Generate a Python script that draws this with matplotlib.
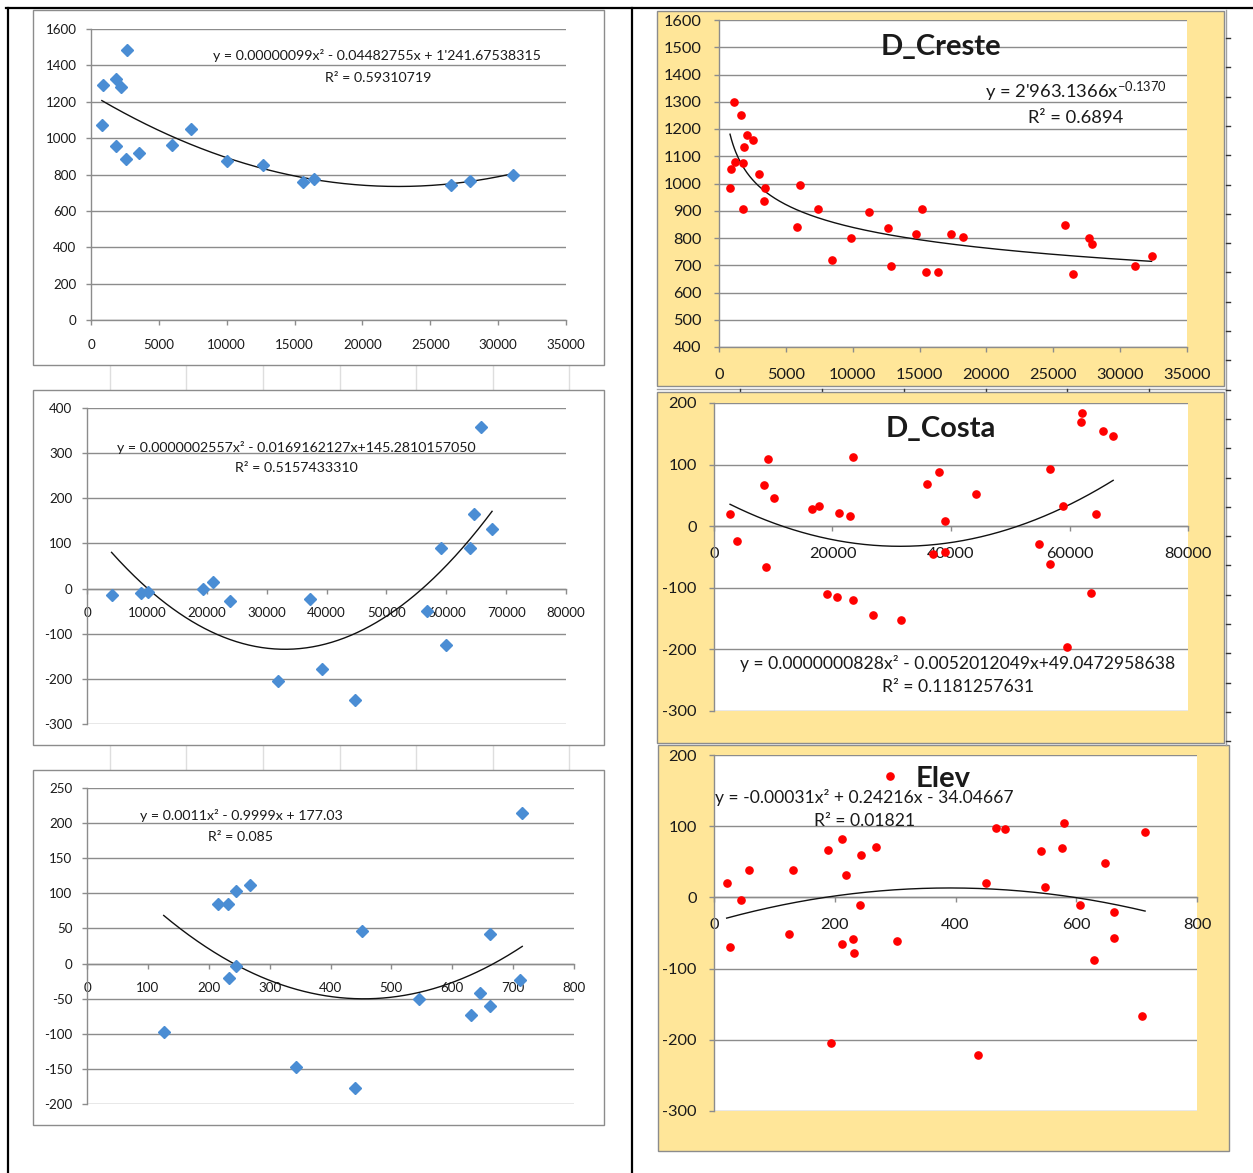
import numpy as np
import matplotlib
matplotlib.use("Agg")
import matplotlib.pyplot as plt
from matplotlib.patches import Rectangle
from matplotlib.lines import Line2D

plt.rcParams['font.family'] = ['Lato', 'DejaVu Sans']
plt.rcParams['mathtext.fontset'] = 'custom'
plt.rcParams['mathtext.rm'] = 'Lato'
plt.rcParams['mathtext.it'] = 'Lato:italic'
plt.rcParams['mathtext.bf'] = 'Lato:bold'

# ---------------- data ----------------
# Panel 1 (left top)
p1_x = [900, 800, 1850, 1850, 2200, 2650, 2550, 3500, 5950, 7400, 10000, 12700,
        15600, 16450, 26500, 27950, 31100]
p1_y = [1290, 1073, 1325, 955, 1280, 1483, 887, 918, 960, 1051, 872, 852,
        760, 775, 745, 765, 800]
p1_coef = [0.00000099, -0.04482755, 1241.67538315]
p1_eq = "y = 0.00000099x² - 0.04482755x + 1'241.67538315"
p1_r2 = "R² = 0.59310719"

# Panel 2 (left middle)
p2_x = [4100, 9100, 10200, 19400, 21100, 23800, 31900, 37250, 39200, 44800,
        56800, 59050, 59900, 63950, 64700, 65800, 67650]
p2_y = [-15, -10, -8, -2, 15, -27, -204, -24, -178, -247,
        -49, 89, -126, 89, 165, 357, 131]
p2_coef = [0.0000002557, -0.0169162127, 145.2810157050]
p2_eq = "y = 0.0000002557x² - 0.0169162127x+145.2810157050"
p2_r2 = "R² = 0.5157433310"

# Panel 3 (left bottom)
p3_x = [126, 215, 232, 234, 244, 245, 268, 343, 440, 451, 546, 630, 645, 662,
        662, 711, 715]
p3_y = [-97, 85, 85, -21, 104, -4, 112, -148, -177, 46, -51, -73, -42, 42,
        -61, -23, 215]
p3_coef = [0.0011, -0.9999, 177.03]
p3_eq = "y = 0.0011x² - 0.9999x + 177.03"
p3_r2 = "R² = 0.085"

# Panel 4 D_Creste
p4_x = [825, 880, 1140, 1220, 1680, 1790, 1790, 1900, 2100, 2530, 2990, 3330,
        3410, 5860, 6060, 7390, 8470, 9890, 11200, 12650, 12850, 14730, 15150,
        15490, 16380, 17370, 18220, 25900, 26470, 27690, 27890, 31080, 32350]
p4_y = [982, 1053, 1300, 1080, 1252, 1075, 906, 1133, 1178, 1160, 1036, 934,
        982, 842, 993, 907, 718, 799, 896, 836, 696, 815, 907,
        674, 674, 815, 804, 847, 669, 799, 777, 696, 734]
p4_a, p4_b = 2963.1366, -0.1370
p4_title = "D_Creste"
p4_eq = r"y = 2'963.1366x$^{\mathrm{-0.1370}}$"
p4_r2 = "R² = 0.6894"

# Panel 5 D_Costa
p5_x = [2710, 3930, 8380, 8830, 9090, 10120, 16570, 17660, 21140, 22890, 23530,
        19080, 20820, 23530, 26820, 31520, 35970, 36940, 37970, 39070, 39070,
        44220, 54920, 56660, 56660, 58860, 59570, 61890, 62140, 63630, 64400,
        65630, 67370]
p5_y = [19, -24, 67, -67, 109, 45, 28, 33, 21, 16, 112,
        -110, -115, -120, -144, -153, 69, -45, 88, 9, -42,
        52, -29, 93, -62, 33, -196, 169, 184, -108, 19,
        155, 146]
p5_coef = [0.0000000828, -0.0052012049, 49.0472958638]
p5_title = "D_Costa"
p5_eq = "y = 0.0000000828x² - 0.0052012049x+49.0472958638"
p5_r2 = "R² = 0.1181257631"

# Panel 6 Elev
p6_x = [21, 26, 44, 58, 124, 131, 188, 193, 212, 212, 218, 230, 232, 242, 244,
        268, 291, 303, 438, 450, 467, 482, 542, 548, 577, 580, 607, 629, 647,
        663, 663, 709, 714]
p6_y = [20, -69, -3, 38, -51, 38, 67, -204, 82, -65, 32, -59, -78, -11, 59,
        71, 170, -61, -221, 20, 98, 96, 65, 14, 69, 105, -11, -88, 48,
        -20, -57, -167, 92]
p6_coef = [-0.00031, 0.24216, -34.04667]
p6_title = "Elev"
p6_eq = "y = -0.00031x² + 0.24216x - 34.04667"
p6_r2 = "R² = 0.01821"

# ---------------- figure ----------------
W, H = 1253, 1173
fig = plt.figure(figsize=(W / 100, H / 100), dpi=100)
fig.patch.set_facecolor('white')

BLUE = '#4A8DD4'
RED = '#FF0000'
GRID = '#8C8C8C'
YELLOW = '#FFE699'
TXT = '#1a1a1a'


def fx(x):
    return x / W


def fy(y):
    return 1 - y / H


def px_axes(x0, y0, x1, y1):
    return fig.add_axes([fx(x0), fy(y1), (x1 - x0) / W, (y1 - y0) / H])


def rect(x0, y0, x1, y1, face, edge, lw=1.0, z=-5):
    r = Rectangle((fx(x0), fy(y1)), (x1 - x0) / W, (y1 - y0) / H,
                  transform=fig.transFigure, facecolor=face, edgecolor=edge,
                  linewidth=lw, zorder=z)
    fig.add_artist(r)


def line(xs, ys, color, lw, z=-4):
    fig.add_artist(Line2D([fx(v) for v in xs], [fy(v) for v in ys],
                          transform=fig.transFigure, color=color, lw=lw, zorder=z))


def text(x, y, s, size, weight='normal', ha='center'):
    fig.text(fx(x), fy(y), s, fontsize=size, fontweight=weight, ha=ha,
             va='center', color=TXT, zorder=10)


def style(ax, xlim, ylim, xticks, yticks, cross0, lsize, xpad, ypad):
    ax.set_xlim(xlim)
    ax.set_ylim(ylim)
    ax.set_xticks(xticks)
    ax.set_yticks(yticks)
    ax.set_xticklabels([str(v) for v in xticks])
    ax.set_yticklabels([str(v) for v in yticks])
    for s in ['top', 'right']:
        ax.spines[s].set_visible(False)
    for s in ['left', 'bottom']:
        ax.spines[s].set_color(GRID)
        ax.spines[s].set_linewidth(1.0)
    if cross0:
        ax.spines['bottom'].set_position(('data', 0))
    ax.grid(axis='y', color=GRID, lw=1.0)
    ax.set_axisbelow(True)
    ax.tick_params(axis='both', direction='out', length=3.5, width=1.0,
                   color=GRID, labelsize=lsize, labelcolor=TXT)
    ax.tick_params(axis='x', pad=xpad)
    ax.tick_params(axis='y', pad=ypad)
    ax.set_facecolor('white')
    for lab in ax.get_xticklabels() + ax.get_yticklabels():
        lab.set_zorder(1)


def quad_line(ax, xs, coef):
    t = np.linspace(min(xs), max(xs), 300)
    ax.plot(t, np.polyval(coef, t), color='#111111', lw=1.0, zorder=3,
            clip_on=False)


# ---- table borders ----
line([6, W], [8, 8], 'black', 1.6, z=-3)
line([8, 8], [8, H], 'black', 1.6, z=-3)
line([632, 632], [8, H], 'black', 1.6, z=-3)

# cell gridlines in gaps (left column)
for gx in [110, 186, 263, 340, 416, 493, 569]:
    line([gx, gx], [366, 389], '#DEDEDE', 1.0, z=-6)
    line([gx, gx], [746, 769], '#DEDEDE', 1.0, z=-6)

# right column decorations
line([1226, 1226], [10, 745], '#A0A0A0', 1.0, z=-4)
ty = 38.0
while ty < 742:
    line([1226, 1230], [ty, ty], '#333333', 1.0, z=-4)
    ty += 29.3
line([657, 1226], [389, 389], '#A0A0A0', 1.0, z=-6)
for gx in [740, 822, 904, 986, 1067, 1149]:
    line([gx, gx], [389, 393], '#333333', 1.0, z=-6)

# ---- left frames ----
rect(33, 10, 604, 365, 'white', GRID)
rect(33, 390, 604, 745, 'white', GRID)
rect(33, 770, 604, 1125, 'white', GRID)

# ---- right yellow panels ----
rect(657, 11, 1224, 386, YELLOW, '#8C8C8C')
rect(657, 392, 1224, 743, YELLOW, '#8C8C8C')
rect(658, 745, 1229, 1151, YELLOW, '#8C8C8C')

LS = 9.6   # left tick label size
RS = 11.8  # right tick label size

# ---------- Panel 1 ----------
ax1 = px_axes(91, 29, 566, 320)
style(ax1, (0, 35000), (0, 1600), list(range(0, 35001, 5000)),
      list(range(0, 1601, 200)), False, LS, 10, 7)
ax1.plot(p1_x, p1_y, linestyle='none', marker='D', ms=6.2, color=BLUE,
         mec=BLUE, zorder=4, clip_on=False)
quad_line(ax1, p1_x, p1_coef)
text(377, 56, p1_eq, 10.2)
text(378, 78, p1_r2, 10.2)

# ---------- Panel 2 ----------
ax2 = px_axes(87, 408, 566, 724)
style(ax2, (0, 80000), (-300, 400), list(range(0, 80001, 10000)),
      list(range(-300, 401, 100)), True, LS, 10, 7)
ax2.plot(p2_x, p2_y, linestyle='none', marker='D', ms=6.2, color=BLUE,
         mec=BLUE, zorder=4, clip_on=False)
quad_line(ax2, p2_x, p2_coef)
text(296, 447, p2_eq, 10.2)
text(296, 468, p2_r2, 10.2)

# ---------- Panel 3 ----------
ax3 = px_axes(87, 788, 574, 1104)
style(ax3, (0, 800), (-200, 250), list(range(0, 801, 100)),
      list(range(-200, 251, 50)), True, LS, 10, 7)
ax3.plot(p3_x, p3_y, linestyle='none', marker='D', ms=6.2, color=BLUE,
         mec=BLUE, zorder=4, clip_on=False)
quad_line(ax3, p3_x, p3_coef)
text(241, 816, p3_eq, 10.2)
text(240, 837, p3_r2, 10.2)

# ---------- Panel 4 ----------
ax4 = px_axes(719, 20, 1187, 347)
style(ax4, (0, 35000), (400, 1600), list(range(0, 35001, 5000)),
      list(range(400, 1601, 100)), False, RS, 11.5, 9)
ax4.plot(p4_x, p4_y, linestyle='none', marker='o', ms=5.2, color=RED,
         mec=RED, zorder=4, clip_on=False)
t4 = np.linspace(min(p4_x), max(p4_x), 300)
ax4.plot(t4, p4_a * t4 ** p4_b, color='#111111', lw=1.0, zorder=3)
text(941, 47, p4_title, 21, weight='bold')
text(1076, 92, p4_eq, 13.2)
text(1076, 118, p4_r2, 13.2)

# ---------- Panel 5 ----------
ax5 = px_axes(714, 403, 1188, 711)
style(ax5, (0, 80000), (-300, 200), list(range(0, 80001, 20000)),
      list(range(-300, 201, 100)), True, RS, 11.5, 9)
ax5.plot(p5_x, p5_y, linestyle='none', marker='o', ms=5.2, color=RED,
         mec=RED, zorder=4, clip_on=False)
quad_line(ax5, p5_x, p5_coef)
text(941, 429, p5_title, 21, weight='bold')
text(958, 664, p5_eq, 12.6)
text(958, 687, p5_r2, 12.6)

# ---------- Panel 6 ----------
ax6 = px_axes(714, 755, 1197, 1111)
style(ax6, (0, 800), (-300, 200), list(range(0, 801, 200)),
      list(range(-300, 201, 100)), True, RS, 11.5, 9)
ax6.plot(p6_x, p6_y, linestyle='none', marker='o', ms=5.2, color=RED,
         mec=RED, zorder=4, clip_on=False)
quad_line(ax6, p6_x, p6_coef)
text(943, 779, p6_title, 21, weight='bold')
text(864, 798, p6_eq, 12.6)
text(865, 821, p6_r2, 12.6)

fig.savefig('out.png', dpi=100, facecolor='white')
